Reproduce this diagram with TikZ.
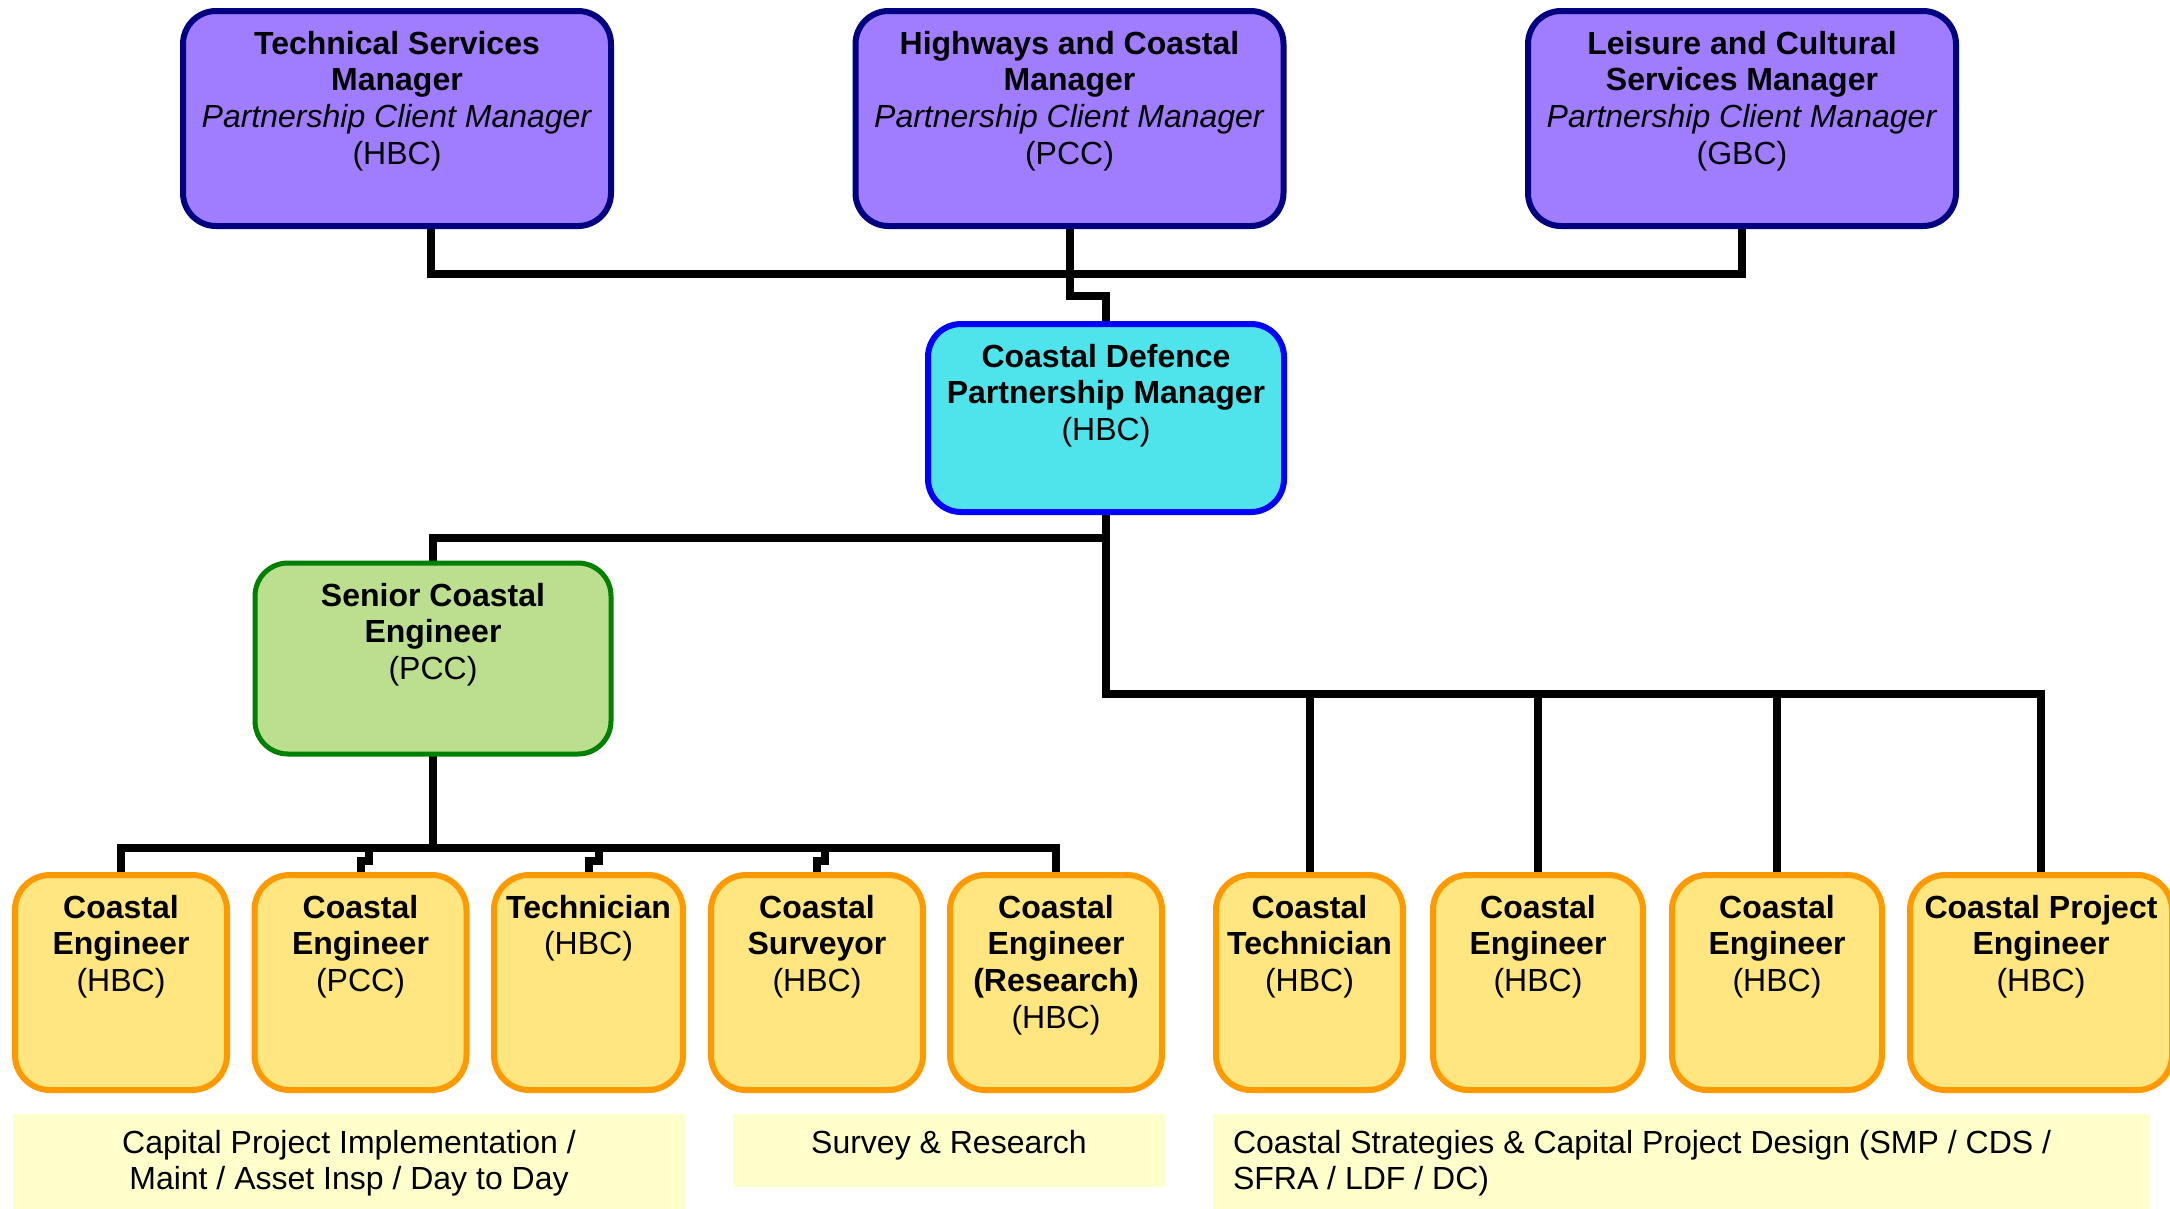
\documentclass[tikz,border=0pt]{standalone}
\usepackage{fontspec}
\setmainfont{Liberation Sans}
\usetikzlibrary{calc,backgrounds}
\definecolor{purfill}{RGB}{160,124,255}
\definecolor{navyb}{RGB}{0,0,128}
\definecolor{cyanfill}{RGB}{79,227,235}
\definecolor{blueb}{RGB}{0,0,255}
\definecolor{greenfill}{RGB}{187,222,143}
\definecolor{greenb}{RGB}{0,128,0}
\definecolor{yelfill}{RGB}{255,230,128}
\definecolor{orangeb}{RGB}{255,153,0}
\definecolor{lblfill}{RGB}{255,255,204}
\newcommand{\boxtxt}[3]{\parbox[t][#2pt][t]{#1pt}{\centering\strut #3}}
\newcommand{\lbltxt}[4]{\parbox[t][#2pt][t]{#1pt}{#3\strut #4}}
\tikzset{
  orgbase/.style={rectangle, rounded corners=33pt, line width=6pt, inner sep=0pt, outer sep=0pt,
    font=\fontsize{32pt}{36.7pt}\selectfont},
  topbox/.style={orgbase, draw=navyb, fill=purfill, minimum width=428pt, minimum height=215pt},
  cdpbox/.style={orgbase, draw=blueb, fill=cyanfill, minimum width=356pt, minimum height=188pt},
  scebox/.style={orgbase, draw=greenb, fill=greenfill, minimum width=356pt, minimum height=191pt, line width=5pt},
  ybox/.style={orgbase, rounded corners=35pt, draw=orangeb, fill=yelfill, minimum height=215pt},
  lblbox/.style={rectangle, inner sep=0pt, outer sep=0pt, fill=lblfill, draw=none,
    font=\fontsize{32pt}{36.7pt}\selectfont},
  conn/.style={draw=black, line width=8pt},
}
\begin{document}
\begin{tikzpicture}[x=1pt, y=-1pt]
\useasboundingbox (0,0) rectangle (2170,1208);

% top managers
\node[topbox] (ts) at (397,118.5) {\boxtxt{428}{180}{\textbf{Technical Services}\\\textbf{Manager}\\\textit{Partnership Client Manager}\\(HBC)}};
\node[topbox] (hc) at (1069.5,118.5) {\boxtxt{428}{180}{\textbf{Highways and Coastal}\\\textbf{Manager}\\\textit{Partnership Client Manager}\\(PCC)}};
\node[topbox] (lc) at (1742,118.5) {\boxtxt{428}{180}{\textbf{Leisure and Cultural}\\\textbf{Services Manager}\\\textit{Partnership Client Manager}\\(GBC)}};

% partnership manager
\node[cdpbox] (cdp) at (1106,418) {\boxtxt{356}{153}{\textbf{Coastal Defence}\\\textbf{Partnership Manager}\\(HBC)}};

% senior coastal engineer
\node[scebox] (sce) at (433,658.5) {\boxtxt{356}{156}{\textbf{Senior Coastal}\\\textbf{Engineer}\\(PCC)}};

% bottom row left
\node[ybox, minimum width=212pt] (b1) at (121,982.5) {\boxtxt{212}{180}{\textbf{Coastal}\\\textbf{Engineer}\\(HBC)}};
\node[ybox, minimum width=212pt] (b2) at (360.5,982.5) {\boxtxt{212}{180}{\textbf{Coastal}\\\textbf{Engineer}\\(PCC)}};
\node[ybox, minimum width=189pt] (b3) at (588.5,982.5) {\boxtxt{189}{180}{\textbf{Technician}\\(HBC)}};
\node[ybox, minimum width=212pt] (b4) at (817,982.5) {\boxtxt{212}{180}{\textbf{Coastal}\\\textbf{Surveyor}\\(HBC)}};
\node[ybox, minimum width=212pt] (b5) at (1056,982.5) {\boxtxt{212}{180}{\textbf{Coastal}\\\textbf{Engineer}\\\textbf{(Research)}\\(HBC)}};

% bottom row right
\node[ybox, minimum width=187pt] (ct) at (1309.5,982.5) {\boxtxt{187}{180}{\textbf{Coastal}\\\textbf{Technician}\\(HBC)}};
\node[ybox, minimum width=210pt] (ce1) at (1538,982.5) {\boxtxt{210}{180}{\textbf{Coastal}\\\textbf{Engineer}\\(HBC)}};
\node[ybox, minimum width=210pt] (ce2) at (1777,982.5) {\boxtxt{210}{180}{\textbf{Coastal}\\\textbf{Engineer}\\(HBC)}};
\node[ybox, minimum width=262pt] (cpe) at (2041,982.5) {\boxtxt{262}{180}{\textbf{Coastal Project}\\\textbf{Engineer}\\(HBC)}};

% group labels
\node[lblbox, minimum width=672pt, minimum height=98pt] (l1) at (349,1163) {\lbltxt{672}{71.4}{\centering}{Capital Project Implementation /\\Maint / Asset Insp / Day to Day}};
\node[lblbox, minimum width=432pt, minimum height=73pt] (l2) at (949,1150.5) {\lbltxt{432}{46.4}{\centering}{Survey \& Research}};
\node[lblbox, minimum width=937pt, minimum height=98pt] (l3) at (1681.5,1163) {\lbltxt{897}{71.4}{\raggedright}{Coastal Strategies \& Capital Project Design (SMP / CDS /\\SFRA / LDF / DC)}};

% connectors
\begin{scope}[on background layer]
\fill[white] (0,0) rectangle (2170,1208);
\coordinate (topbar) at (0,274);
\coordinate (jog) at (0,295.5);
\coordinate (midbar) at (0,538);
\coordinate (rbar) at (0,694);
\coordinate (lbar) at (0,848);
\coordinate (tsc) at ($(ts.south)+(34,0)$);
\draw[conn] (tsc) -- (tsc |- topbar) -| (lc.south);
\draw[conn] (hc.south) -- (hc.south |- jog) -| (cdp.north);
\draw[conn] (cdp.south) -- (cdp.south |- midbar) -| (sce.north);
\draw[conn] (cdp.south) -- (cdp.south |- rbar) -| (cpe.north);
\draw[conn] (ct.north) -- (ct.north |- rbar);
\draw[conn] (ce1.north) -- (ce1.north |- rbar);
\draw[conn] (ce2.north) -- (ce2.north |- rbar);
\draw[conn] (sce.south) -- (sce.south |- lbar);
\draw[conn] (b1.north) |- (b5.north |- lbar) -- (b5.north);
\draw[conn] (b2.north) -- ++(0,-14) -- ++(8,0) -- ++(0,-13);
\draw[conn] (b3.north) -- ++(0,-14) -- ++(10,0) -- ++(0,-13);
\draw[conn] (b4.north) -- ++(0,-14) -- ++(8,0) -- ++(0,-13);
\end{scope}
\end{tikzpicture}
\end{document}
